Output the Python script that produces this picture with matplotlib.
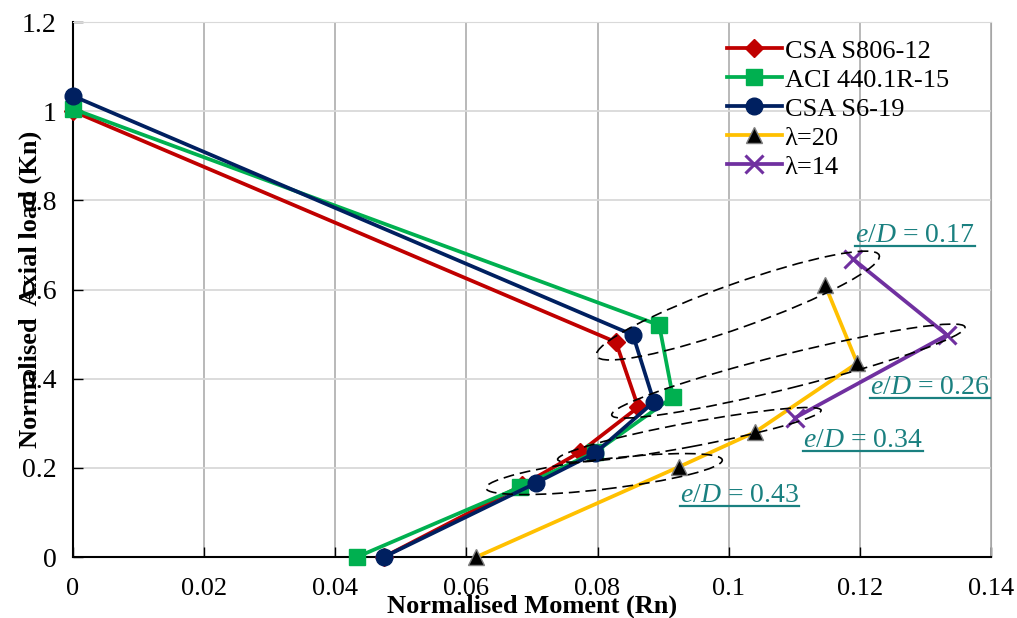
import matplotlib
matplotlib.use("Agg")
import matplotlib.pyplot as plt
import matplotlib.transforms as mtransforms
from matplotlib.patches import Ellipse
from matplotlib.lines import Line2D

plt.rcParams["font.family"] = ["Liberation Serif", "DejaVu Serif"]
plt.rcParams["mathtext.fontset"] = "custom"
plt.rcParams["mathtext.rm"] = "Liberation Serif"
plt.rcParams["mathtext.it"] = "Liberation Serif:italic"

# interaction points (normalised moment, normalised axial load)
s806_x = [0.0, 0.0828, 0.0862, 0.0773, 0.0685, 0.0474]
s806_y = [1.0, 0.482, 0.336, 0.235, 0.161, 0.0]
aci_x = [0.0, 0.0894, 0.0915, 0.0796, 0.0682, 0.0433]
aci_y = [1.005, 0.520, 0.359, 0.235, 0.157, 0.0]
s6_x = [0.0, 0.0854, 0.0886, 0.0796, 0.0706, 0.0474]
s6_y = [1.034, 0.498, 0.348, 0.233, 0.166, 0.0]
lam20_x = [0.0615, 0.0924, 0.1040, 0.1196, 0.1147]
lam20_y = [0.0, 0.202, 0.280, 0.435, 0.610]
lam14_x = [0.1190, 0.1333, 0.1101]
lam14_y = [0.668, 0.498, 0.312]

xticks = [0, 0.02, 0.04, 0.06, 0.08, 0.1, 0.12, 0.14]
xticklabels = ["0", "0.02", "0.04", "0.06", "0.08", "0.1", "0.12", "0.14"]
yticks = [0, 0.2, 0.4, 0.6, 0.8, 1.0, 1.2]
yticklabels = ["0", "0.2", "0.4", "0.6", "0.8", "1", "1.2"]

# e/D groups: label, text anchor (x, baseline y), ellipse centre, half axes (px), angle
ed_labels = ["0.17", "0.26", "0.34", "0.43"]
ed_text_x = [0.1193, 0.1216, 0.1114, 0.0926]
ed_text_y = [0.707, 0.365, 0.246, 0.123]
ell_cx = [0.1014, 0.1091, 0.0940, 0.0810]
ell_cy = [0.564, 0.417, 0.274, 0.186]
ell_a = [150, 182, 134, 119]
ell_b = [22, 17, 12, 15]
ell_ang = [19.6, 14.0, 10.6, 6.8]

TEAL = "#1A8080"
FS = 19

fig = plt.figure(figsize=(10.17, 6.18), dpi=100)
ax = fig.add_axes([0.0718, 0.0987, 0.9026, 0.8657])

ax.set_xlim(0, 0.14)
ax.set_ylim(0, 1.2)
ax.set_xticks(xticks)
ax.set_xticklabels(xticklabels)
ax.set_yticks(yticks)
ax.set_yticklabels(yticklabels)
ax.tick_params(direction="in", length=7, width=1, pad=15, labelsize=FS)
ax.tick_params(axis="y", pad=12, labelsize=FS + 1)

ax.grid(axis="x", color="#A6A6A6", lw=1.1, zorder=0)
ax.grid(axis="y", color="#D9D9D9", lw=1.3, zorder=0)
for side in ["top", "right"]:
    ax.spines[side].set_color("#D9D9D9")
ax.spines["right"].set_color("#A6A6A6")
for side in ["left", "bottom"]:
    ax.spines[side].set_linewidth(1.5)

lw = 2.7
ax.plot(s806_x, s806_y, color="#C00000", lw=lw, marker="D", ms=9,
        label="CSA S806-12", zorder=3, clip_on=False)
ax.plot(aci_x, aci_y, color="#00B050", lw=lw, marker="s", ms=11.5,
        label="ACI 440.1R-15", zorder=3, clip_on=False)
ax.plot(s6_x, s6_y, color="#002060", lw=lw, marker="o", ms=12,
        label="CSA S6-19", zorder=4, clip_on=False)
ax.plot(lam20_x, lam20_y, color="#FFC000", lw=lw, marker="^", ms=12,
        mfc="black", mec="#7F7F7F", mew=1, label="λ=20", zorder=3, clip_on=False)
ax.plot(lam14_x, lam14_y, color="#7030A0", lw=lw, marker="x", ms=13,
        mew=2.2, label="λ=14", zorder=3, clip_on=False)

# dashed ellipses grouping points of equal eccentricity
for cx, cy, a, b, ang in zip(ell_cx, ell_cy, ell_a, ell_b, ell_ang):
    tr = fig.dpi_scale_trans + mtransforms.ScaledTranslation(cx, cy, ax.transData)
    e = Ellipse((0, 0), 2 * a / 100, 2 * b / 100, angle=ang, transform=tr,
                fill=False, ec="black", lw=1.2, ls=(0, (6.5, 3.5)), zorder=5)
    ax.add_patch(e)

texts = []
for lab, tx, ty in zip(ed_labels, ed_text_x, ed_text_y):
    t = ax.text(tx, ty, r"$e/D$ = " + lab, color=TEAL, fontsize=FS + 1,
                ha="left", va="baseline", zorder=6)
    texts.append(t)

leg = ax.legend(loc="upper left", bbox_to_anchor=(0.712, 0.968), frameon=False,
                fontsize=FS, handlelength=2.1, handletextpad=0.1,
                labelspacing=0.21, borderpad=0, borderaxespad=0)

ax.set_xlabel("Normalised Moment (Rn)", fontsize=FS, fontweight="bold")
ax.set_ylabel("Normalised  Axial load (Kn)", fontsize=FS, fontweight="bold")
ax.xaxis.set_label_coords(0.5, -0.092)
ax.xaxis.label.set_va("center")
ax.yaxis.set_label_coords(-0.047, 0.5)
ax.yaxis.label.set_va("center")

# underline the e/D labels
fig.canvas.draw()
renderer = fig.canvas.get_renderer()
inv = fig.transFigure.inverted()
for t, tx, ty in zip(texts, ed_text_x, ed_text_y):
    bb = t.get_window_extent(renderer)
    base = ax.transData.transform((tx, ty))[1] - 4
    p0 = inv.transform((bb.x0, base))
    p1 = inv.transform((bb.x1, base))
    fig.add_artist(Line2D([p0[0], p1[0]], [p0[1], p1[1]], color=TEAL, lw=1.6))

fig.savefig("out.png", dpi=100)
